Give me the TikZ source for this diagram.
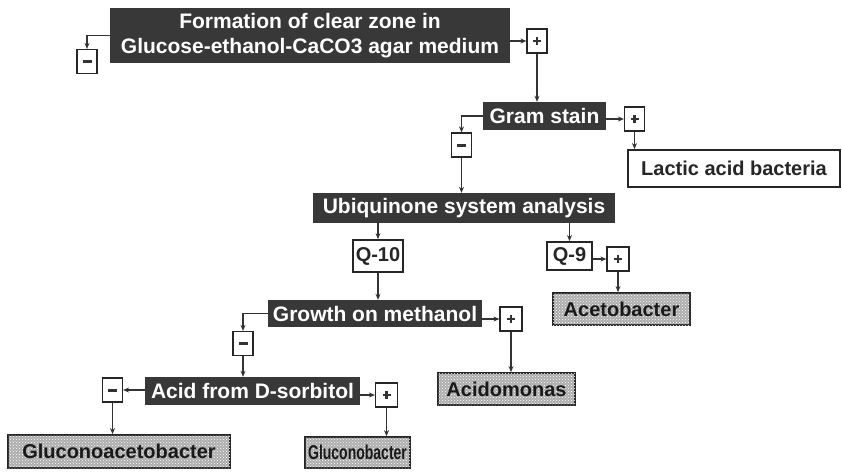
\documentclass[tikz,border=0pt]{standalone}
\usepackage{fontspec}
\setmainfont{Liberation Sans}
\usetikzlibrary{arrows.meta,patterns,calc}
\begin{document}
\begin{tikzpicture}[x=1pt,y=-1pt,
  dark/.style={fill=black!78, text=white, font=\fontsize{21}{25}\selectfont\bfseries, inner sep=0pt, align=center},
  white box/.style={draw=black!85, line width=1.8pt, fill=white, text=black!85, font=\fontsize{20}{24}\selectfont\bfseries, inner sep=0pt},
  leaf/.style={draw=black!85, line width=1.8pt, fill=gray!65, text=black!90, font=\fontsize{20}{24}\selectfont\bfseries, inner sep=0pt,
    postaction={pattern=crosshatch dots, pattern color=white}},
  signbox/.style={draw=black!85, line width=1.2pt, fill=white, minimum width=20pt, minimum height=24pt, inner sep=0pt},
  plusbox/.style={signbox, path picture={
     \fill[black!80] ($(path picture bounding box.center)+(-4pt,-1.3pt)$) rectangle +(8pt,2.6pt);
     \fill[black!80] ($(path picture bounding box.center)+(-1.3pt,-4pt)$) rectangle +(2.6pt,8pt);}},
  minusbox/.style={signbox, path picture={
     \fill[black!80] ($(path picture bounding box.center)+(-4.5pt,-1.5pt)$) rectangle +(9pt,3pt);}},
  arr/.style={draw=black!80, line width=1.1pt, -{Stealth[length=6pt,width=5pt]}}
]
\useasboundingbox[fill=white] (0,0) rectangle (842,471);

% decision nodes
\node[dark, minimum width=400pt, minimum height=55pt] (top) at (310,35.5) {Formation of clear zone in\\Glucose-ethanol-CaCO3 agar medium};
\node[dark, minimum width=123pt, minimum height=28pt] (gram) at (544.5,116) {Gram stain};
\node[dark, minimum width=302pt, minimum height=30pt] (ubi) at (464,208) {Ubiquinone system analysis};
\node[dark, minimum width=214pt, minimum height=27pt] (growth) at (375,313.5) {Growth on methanol};
\node[dark, minimum width=215pt, minimum height=28pt] (acid) at (252.5,391) {Acid from D-sorbitol};

% sign boxes
\node[minusbox] (topminus) at (87,61.5) {};
\node[plusbox] (topplus) at (537,41) {};
\node[plusbox] (gramplus) at (634.5,119) {};
\node[minusbox] (gramminus) at (461.5,145) {};
\node[plusbox, minimum width=22pt] (q9plus) at (618,259) {};
\node[plusbox, minimum width=22pt] (growthplus) at (511,319) {};
\node[minusbox] (growthminus) at (243,343.5) {};
\node[minusbox] (acidminus) at (112.5,390) {};
\node[plusbox, minimum width=22pt] (acidplus) at (386.5,395) {};

% result nodes
\node[white box, minimum width=212pt, minimum height=37pt] (lactic) at (734,168.5) {Lactic acid bacteria};
\node[white box, minimum width=50pt, minimum height=32pt] (q10) at (378,256) {Q-10};
\node[white box, minimum width=45pt, minimum height=28pt] (q9) at (569.5,256) {Q-9};
\node[leaf, minimum width=137pt, minimum height=32pt] (aceto) at (621.5,309) {Acetobacter};
\node[leaf, minimum width=137pt, minimum height=32pt] (acido) at (506.5,389) {Acidomonas};
\node[leaf, minimum width=222pt, minimum height=33pt] (glucace) at (119,451.5) {Gluconoacetobacter};
\node[leaf, minimum width=105pt, minimum height=31pt] (glucono) at (357.5,452.5) {\scalebox{0.7}[1]{Gluconobacter}};

% connectors
\draw[arr] (top.west) -| (topminus.north);
\draw[arr] (top.east |- topplus.west) -- (topplus.west);
\draw[arr] (topplus.south) -- (topplus.south |- gram.north);
\draw[arr] (gram.east |- gramplus.west) -- (gramplus.west);
\draw[arr] (gramplus.south) -- (gramplus.south |- lactic.north);
\draw[arr] (gram.west) -| (gramminus.north);
\draw[arr] (gramminus.south) -- (gramminus.south |- ubi.north);
\draw[arr] (q10.north |- ubi.south) -- (q10.north);
\draw[arr] (q9.north |- ubi.south) -- (q9.north);
\draw[arr] (q9.east |- q9plus.west) -- (q9plus.west);
\draw[arr] (q9plus.south) -- (q9plus.south |- aceto.north);
\draw[arr] (q10.south) -- (q10.south |- growth.north);
\draw[arr] (growth.east |- growthplus.west) -- (growthplus.west);
\draw[arr] (growthplus.south) -- (growthplus.south |- acido.north);
\draw[arr] (growth.west) -| (growthminus.north);
\draw[arr] (growthminus.south) -- (growthminus.south |- acid.north);
\draw[arr] (acid.west |- acidminus.east) -- (acidminus.east);
\draw[arr] (acid.east |- acidplus.west) -- (acidplus.west);
\draw[arr] (acidminus.south) -- (acidminus.south |- glucace.north);
\draw[arr] (acidplus.south) -- (acidplus.south |- glucono.north);
\end{tikzpicture}
\end{document}
